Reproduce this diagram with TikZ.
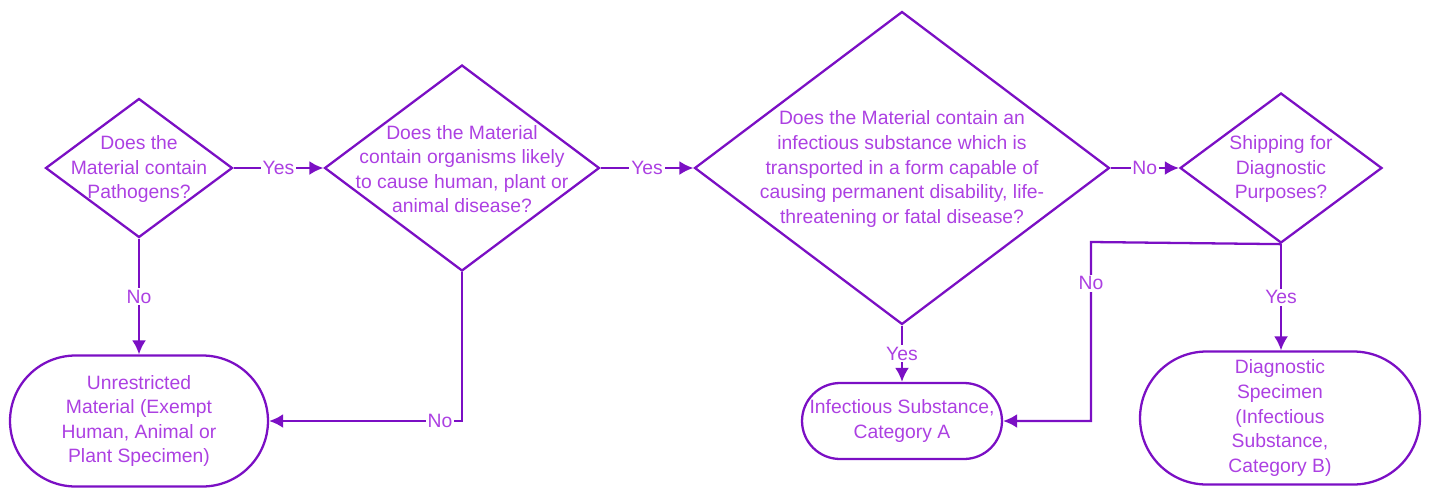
\documentclass[tikz,border=0pt]{standalone}
\usepackage{fontspec}
\setmainfont{Liberation Sans}
\usepackage{tikz}
\usetikzlibrary{arrows.meta,shapes.geometric,positioning}

\definecolor{flowline}{HTML}{7B0FC4}
\definecolor{flowtext}{HTML}{AC40E2}

\tikzset{
  decision/.style={diamond,draw=flowline,line width=1.3pt,inner sep=0pt},
  question/.style={align=center,text=flowtext,font=\fontsize{11}{14}\selectfont},
  outcome/.style={rectangle,draw=flowline,line width=1.3pt,align=center,
    text=flowtext,font=\fontsize{11}{14}\selectfont},
  flow/.style={draw=flowline,line width=1.3pt,-{Latex[length=8pt,width=8pt]}},
  answer/.style={fill=white,inner sep=1pt,text=flowtext,font=\fontsize{11}{14}\selectfont}
}

\begin{document}
\begin{tikzpicture}[x=0.02cm,y=-0.02cm]
    \useasboundingbox (0,0) rectangle (1429,490);

    %Questions
    \begin{scope}[every node/.style={decision}]
      \node[minimum width=3.74cm,minimum height=2.78cm] (patho) at (139,168) {};
      \node[minimum width=5.5cm,minimum height=4.12cm] (organ) at (462,168) {};
      \node[minimum width=8.3cm,minimum height=6.26cm] (catA) at (902,168) {};
      \node[minimum width=4.04cm,minimum height=3cm] (diag) at (1281,168) {};
    \end{scope}

    \begin{scope}[every node/.style={question}]
      \node (pathotext) at (139,169) {Does the\\Material contain\\Pathogens?};
      \node (organtext) at (462,169) {Does the Material\\contain organisms likely\\to cause human, plant or\\animal disease?};
      \node (catAtext) at (902,169) {Does the Material contain an\\infectious substance which is\\transported in a form capable of\\causing permanent disability, life-\\threatening or fatal disease?};
      \node (diagtext) at (1281,169) {Shipping for\\Diagnostic\\Purposes?};
    \end{scope}

    %Outcomes
    \node[outcome,minimum width=5.16cm,minimum height=2.62cm,rounded corners=1.31cm] (exempt) at (139,421)
      {Unrestricted\\Material (Exempt\\Human, Animal or\\Plant Specimen)};
    \node[outcome,minimum width=4cm,minimum height=1.52cm,rounded corners=0.76cm] (infA) at (902,421)
      {Infectious Substance,\\Category A};
    \node[outcome,minimum width=5.6cm,minimum height=2.66cm,rounded corners=1.33cm] (specB) at (1280,418)
      {Diagnostic\\Specimen\\(Infectious\\Substance,\\Category B)};

    \coordinate (nobend) at (1091,242);

    %Connectors
    \begin{scope}[every node/.style={answer}]
      \path[flow] (patho) -- node {Yes} (organ);
      \path[flow] (patho) -- node {No} (exempt);
      \path[flow] (organ.south) |- node[pos=0.557] {No} (exempt.east);
      \path[flow] (organ) -- node {Yes} (catA);
      \path[flow] (catA) -- node {Yes} (infA);
      \path[flow] (catA) -- node {No} (diag);
      \path[flow] (diag.south) -- node {Yes} (diag.south |- specB.north);
      \path[flow] (diag.south) -- (nobend) |- node[pos=0.115] {No} (infA.east);
    \end{scope}
  \end{tikzpicture}
\end{document}
